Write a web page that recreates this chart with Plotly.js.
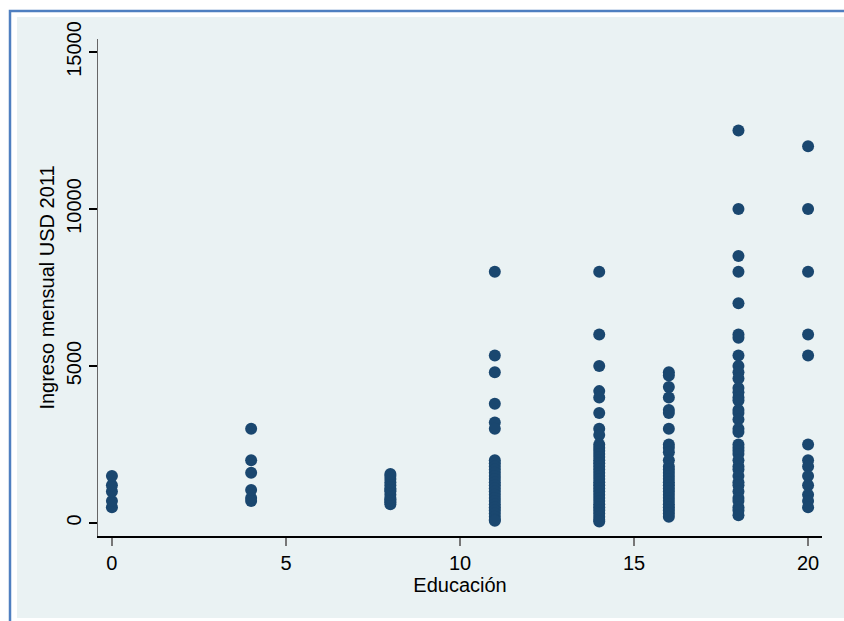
<!DOCTYPE html>
<html>
<head>
<meta charset="utf-8">
<script src="https://cdn.plot.ly/plotly-3.0.1.min.js"></script>
<style>html,body{margin:0;padding:0;background:#fff;}#chart{width:844px;height:621px;}</style>
</head>
<body>
<div id="chart"></div>
<script>
// Education levels (years) and monthly income (USD 2011)
const educLevels = [0, 4, 8, 11, 14, 16, 18, 20];
const ingreso_0  = [500, 700, 1000, 1200, 1500];
const ingreso_4  = [700, 800, 1050, 1600, 2000, 3000];
const ingreso_8  = [600, 650, 700, 750, 800, 900, 1000, 1050, 1100, 1200, 1300, 1400, 1500, 1560];
const ingreso_11 = [8000, 5333, 4800, 3800, 3200, 3000, 2000, 1900, 1800, 1700, 1600, 1500, 1400, 1300, 1200, 1100, 1000, 900, 800, 700, 600, 500, 400, 300, 200, 100, 70];
const ingreso_14 = [8000, 6000, 5000, 4200, 4000, 3500, 3000, 2800, 2500, 2400, 2300, 2200, 2100, 2000, 1900, 1800, 1700, 1600, 1500, 1400, 1300, 1200, 1100, 1000, 900, 800, 700, 600, 500, 400, 300, 200, 100, 50];
const ingreso_16 = [4800, 4700, 4333, 4000, 3600, 3500, 3000, 2500, 2400, 2250, 2000, 1800, 1700, 1600, 1500, 1400, 1300, 1200, 1100, 1000, 900, 800, 700, 600, 500, 400, 300, 200];
const ingreso_18 = [12500, 10000, 8500, 8000, 7000, 6000, 5900, 5333, 5000, 4800, 4600, 4300, 4167, 4000, 3900, 3600, 3500, 3300, 3000, 2900, 2500, 2400, 2300, 2200, 2000, 1800, 1700, 1500, 1300, 1200, 1000, 800, 700, 500, 400, 250];
const ingreso_20 = [12000, 10000, 8000, 6000, 5333, 2500, 2000, 1800, 1500, 1200, 900, 700, 500];
const xTicks = [0, 5, 10, 15, 20];
const yTicks = [0, 5000, 10000, 15000];

const groups = [ingreso_0, ingreso_4, ingreso_8, ingreso_11, ingreso_14, ingreso_16, ingreso_18, ingreso_20];
const xs = [], ys = [];
groups.forEach((g, i) => g.forEach(v => { xs.push(educLevels[i]); ys.push(v); }));

const font = {family: 'Liberation Sans, Arial, sans-serif', size: 20, color: '#000'};

const trace = {
  x: xs, y: ys, type: 'scatter', mode: 'markers',
  marker: {color: '#1a476f', size: 12, line: {width: 0}},
  hoverinfo: 'x+y'
};

const layout = {
  width: 844, height: 621,
  margin: {l: 98, r: 22, t: 39, b: 85},
  paper_bgcolor: '#ffffff',
  plot_bgcolor: '#ffffff',
  showlegend: false,
  font: font,
  xaxis: {
    range: [-0.4, 20.4],
    tickvals: xTicks, ticktext: xTicks.map(String),
    ticks: 'outside', ticklen: 8, tickwidth: 2, tickcolor: '#777',
    showgrid: false, zeroline: false,
    showline: true, linecolor: '#000', linewidth: 1.5,
    tickfont: font,
    title: {text: 'Educación', font: font, standoff: 1}
  },
  yaxis: {
    range: [-414, 15414],
    tickvals: yTicks, ticktext: yTicks.map(String),
    tickangle: -90,
    ticks: 'outside', ticklen: 8, tickwidth: 1.2, tickcolor: '#000',
    showgrid: true, gridcolor: '#EAF2F3', gridwidth: 2,
    zeroline: false,
    showline: true, linecolor: '#666', linewidth: 1.5,
    tickfont: font,
    title: {text: 'Ingreso mensual USD 2011', font: font, standoff: 2}
  },
  shapes: [
    {type: 'rect', xref: 'paper', yref: 'paper', layer: 'below',
     x0: (17 - 98) / 724, x1: (844 - 98) / 724, y0: (536 - 618) / 497, y1: (536 - 17) / 497,
     fillcolor: '#EAF2F3', line: {width: 0}},
    {type: 'rect', xref: 'paper', yref: 'paper', layer: 'below',
     x0: (10 - 98) / 724, x1: (880 - 98) / 724, y0: (536 - 660) / 497, y1: (536 - 11) / 497,
     fillcolor: 'rgba(0,0,0,0)', line: {color: '#4F7FC0', width: 2.5}}
  ]
};

Plotly.newPlot('chart', [trace], layout, {displayModeBar: false, staticPlot: true});
</script>
</body>
</html>
